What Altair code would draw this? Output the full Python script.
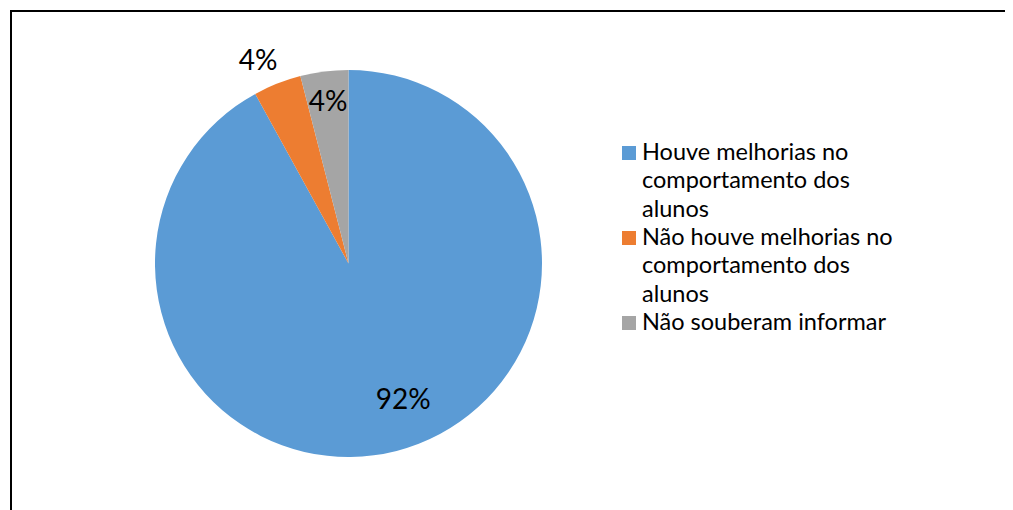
import altair as alt
import pandas as pd
import textwrap

categories = [
    "Houve melhorias no comportamento dos alunos",
    "Não houve melhorias no comportamento dos alunos",
    "Não souberam informar",
]
values = [92, 4, 4]
labels = ["92%", "4%", "4%"]
colors = ["#5B9BD5", "#ED7D31", "#A5A5A5"]

df = pd.DataFrame({"cat": categories, "value": values, "label": labels, "idx": list(range(len(categories)))})

# legend rows (wrapped text lines)
rows = []
marker_rows = []
r = 0
for c in categories:
    lines = textwrap.wrap(c, 22)
    marker_rows.append({"cat": c, "row": r})
    for ln in lines:
        rows.append({"line": ln, "row": r})
        r += 1
legend_text_df = pd.DataFrame(rows)
legend_marker_df = pd.DataFrame(marker_rows)

FONT = "Lato"
CX, CY, R = 340.5, 255.5, 193.5

color_scale = alt.Scale(domain=categories, range=colors)

base = alt.Chart(df).encode(
    theta=alt.Theta("value:Q", stack=True),
    order=alt.Order("idx:Q"),
    x=alt.value(CX),
    y=alt.value(CY),
)

pie = base.mark_arc(radius=R).encode(
    color=alt.Color("cat:N", scale=color_scale, legend=None)
)

def label_layer(cat, radius, dx=0, dy=0):
    return base.mark_text(radius=radius, dx=dx, dy=dy, font=FONT, fontSize=28, color="black",
                          baseline="middle", align="center").encode(
        text=alt.condition(alt.datum.cat == cat, "label:N", alt.value(""))
    )

lab_blue = label_layer(categories[0], 148, dx=18, dy=-6)
lab_orange = label_layer(categories[1], 221, dx=-9, dy=4)
lab_gray = label_layer(categories[2], 163, dy=1)

yscale = alt.Scale(domain=[0, 6], range=[145, 315])

leg_markers = alt.Chart(legend_marker_df).mark_square(size=196, opacity=1).encode(
    x=alt.value(621),
    y=alt.Y("row:Q", scale=yscale, axis=None),
    color=alt.Color("cat:N", scale=color_scale, legend=None),
)

leg_text = alt.Chart(legend_text_df).mark_text(
    align="left", baseline="middle", font=FONT, fontSize=23.5, color="black"
).encode(
    x=alt.value(634),
    y=alt.Y("row:Q", scale=yscale, axis=None),
    text="line:N",
)

frame = alt.Chart(df).mark_rect(fill=None, fillOpacity=0, stroke="black", strokeWidth=2).encode(
    x=alt.value(3), x2=alt.value(1200), y=alt.value(3), y2=alt.value(800)
)

chart = alt.layer(
    pie, lab_blue, lab_orange, lab_gray, leg_markers, leg_text, frame
).properties(
    width=997, height=502, padding=0, autosize=alt.AutoSizeParams(type="none")
).configure_view(stroke=None)

chart.save("out.html", embed_options={"renderer": "svg", "actions": False})
